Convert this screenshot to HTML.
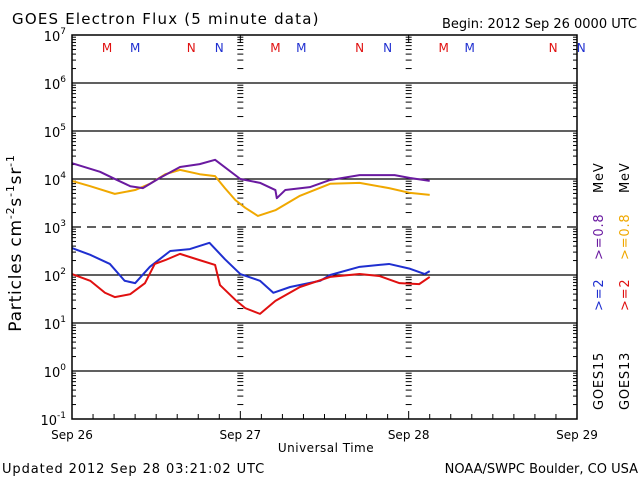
<!DOCTYPE html>
<html><head><meta charset="utf-8"><style>
html,body{margin:0;padding:0;background:#fff;}
svg{display:block;font-family:"DejaVu Sans","Liberation Sans",sans-serif;}
</style></head><body>
<svg id="chart" width="640" height="480" viewBox="0 0 640 480">
<text x="12" y="24" font-size="15" letter-spacing="1.2">GOES Electron Flux (5 minute data)</text>
<text x="637" y="28" font-size="13" text-anchor="end">Begin: 2012 Sep 26 0000 UTC</text>
<g id="grid"></g>
<g id="series"></g>
<rect x="72" y="35" width="505" height="384" fill="none" stroke="#000" stroke-width="1.5"/>
<g id="axes" font-size="13"></g>
<text x="326" y="452" font-size="12" letter-spacing="0.5" text-anchor="middle">Universal Time</text>
<text transform="translate(21,243) rotate(-90)" font-size="17" letter-spacing="0.8" text-anchor="middle">Particles cm<tspan dy="-7" font-size="11">-2</tspan><tspan dy="7">s</tspan><tspan dy="-7" font-size="11">-1</tspan><tspan dy="7">sr</tspan><tspan dy="-7" font-size="11">-1</tspan></text>
<text x="2" y="473" font-size="13" letter-spacing="0.9">Updated 2012 Sep 28 03:21:02 UTC</text>
<text x="638" y="473" font-size="13" text-anchor="end">NOAA/SWPC Boulder, CO USA</text>
<g font-size="13" letter-spacing="0.8">
<text transform="translate(603,410) rotate(-90)">GOES15</text>
<text transform="translate(603,311) rotate(-90)" fill="#1f2fd0">&gt;=2</text>
<text transform="translate(603,260) rotate(-90)" fill="#6a1aa0">&gt;=0.8</text>
<text transform="translate(603,193) rotate(-90)">MeV</text>
<text transform="translate(629,410) rotate(-90)">GOES13</text>
<text transform="translate(629,311) rotate(-90)" fill="#e01010">&gt;=2</text>
<text transform="translate(629,260) rotate(-90)" fill="#f0a800">&gt;=0.8</text>
<text transform="translate(629,193) rotate(-90)">MeV</text>
</g>
</svg>
<script>
// data: hours since Sep 26 00 UTC, log10 flux
const decades = [7,6,5,4,3,2,1,0,-1];
const dayLabels = ["Sep 26","Sep 27","Sep 28","Sep 29"];
const markerText = ["M","M","N","N","M","M","N","N","M","M","N","N"];
const markerHours = [5,9,17,21,29,32.7,41,45,53,56.7,68.6,72.6];
const markerColors = ["#e01010","#1f2fd0","#e01010","#1f2fd0","#e01010","#1f2fd0","#e01010","#1f2fd0","#e01010","#1f2fd0","#e01010","#1f2fd0"];
const g15_08_h = [0,4,6.4,8.3,10.1,12.5,15.4,18.2,20.4,24,26.8,29,29.2,30.4,33.9,36.8,41,46,48.2,51];
const g15_08_v = [4.33,4.15,3.98,3.85,3.81,4.02,4.25,4.31,4.40,4.0,3.92,3.77,3.60,3.77,3.83,3.98,4.08,4.08,4.02,3.96];
const g13_08_h = [0,2.6,6.1,9,11.1,13.3,15.4,18.2,20.4,21.8,23.3,24.7,26.5,29,32.5,36.8,41,45.2,48.2,51];
const g13_08_v = [3.96,3.85,3.69,3.77,3.90,4.10,4.19,4.10,4.06,3.81,3.56,3.40,3.23,3.35,3.65,3.90,3.92,3.81,3.71,3.67];
const g15_2_h = [0,2.6,5.4,7.5,9,11.1,14,16.8,19.6,21.8,24,26.8,28.7,31.1,35.4,36.8,41,45.2,48.2,50.3,51];
const g15_2_v = [2.56,2.42,2.23,1.88,1.83,2.17,2.50,2.54,2.67,2.33,2.02,1.88,1.63,1.75,1.88,2.0,2.17,2.23,2.13,2.02,2.08];
const g13_2_h = [0,2.6,4.7,6.1,8.3,10.4,11.8,13.3,15.4,18.2,20.4,21.1,23.3,24.7,26.8,29,32.5,36.8,41,43.8,46.7,49.5,51];
const g13_2_v = [2.02,1.88,1.63,1.54,1.60,1.83,2.23,2.31,2.44,2.31,2.21,1.79,1.48,1.31,1.19,1.46,1.75,1.96,2.02,1.98,1.83,1.81,1.96];

const L=72,R=577,T=35,B=419;
const xs=h=>L+(R-L)*h/72;
const ys=v=>T+(7-v)*48;
const NS="http://www.w3.org/2000/svg";
function mk(tag,attrs,parent){const e=document.createElementNS(NS,tag);for(const k in attrs)e.setAttribute(k,attrs[k]);parent.appendChild(e);return e;}
const grid=document.getElementById('grid'),axes=document.getElementById('axes'),ser=document.getElementById('series');
decades.forEach(d=>{
  if(d<7&&d>-1){const ln=mk('line',{x1:L,x2:R,y1:ys(d),y2:ys(d),stroke:'#000','stroke-width':1.3},grid);
    if(d===3)ln.setAttribute('stroke-dasharray','9,6');
    
    }
  const t=mk('text',{x:L-6,y:ys(d)+6,'text-anchor':'end'},axes);
  t.innerHTML='10<tspan dy="-7" font-size="9">'+d+'</tspan>';
  
  
  if(d>-1){for(let m=2;m<=9;m++){const y=ys(d-1+Math.log10(m));
    [L,R].forEach((x,i)=>mk('line',{x1:x,x2:x+(i?-4:4),y1:y,y2:y,stroke:'#000'},grid));
    [1,2].forEach(di=>mk('line',{x1:xs(24*di)-3,x2:xs(24*di)+3,y1:y,y2:y,stroke:'#000'},grid));}}
});
for(let h=3;h<72;h+=3){const x=xs(h),len=h%24===0?8:5;
  mk('line',{x1:x,x2:x,y1:B,y2:B-len,stroke:'#000'},grid);
  if(h%24===0)mk('line',{x1:x,x2:x,y1:T,y2:T+len,stroke:'#000'},grid);}
dayLabels.forEach((s,i)=>{const t=mk('text',{x:xs(24*i),y:439,'text-anchor':'middle','font-size':12},axes);t.textContent=s;
  
  });
markerText.forEach((s,i)=>{const t=mk('text',{x:xs(markerHours[i]),y:52,'text-anchor':'middle',fill:markerColors[i],'font-size':12},axes);t.textContent=s;
  
  });
function line(h,v,c,name){const p=mk('polyline',{points:h.map((hh,i)=>xs(hh)+','+ys(v[i])).join(' '),fill:'none',stroke:c,'stroke-width':2,'stroke-linejoin':'round'},ser);
  
  }
line(g13_08_h,g13_08_v,'#f0a800','series-goes13-0.8mev');
line(g15_08_h,g15_08_v,'#6a1aa0','series-goes15-0.8mev');
line(g15_2_h,g15_2_v,'#1f2fd0','series-goes15-2mev');
line(g13_2_h,g13_2_v,'#e01010','series-goes13-2mev');
</script>
</body></html>
